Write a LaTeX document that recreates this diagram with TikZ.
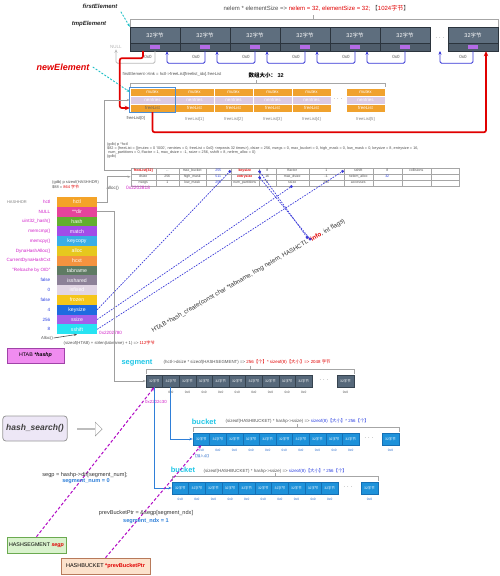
\documentclass[tikz,border=0pt]{standalone}
\usepackage{fontspec}
\setmainfont{Liberation Sans}
\newfontfamily\cjk{Noto Sans CJK SC}
\usepackage{xcolor}
\definecolor{elembg}{HTML}{5E6E7E}
\definecolor{elemlow}{HTML}{4F5D6B}
\definecolor{elembd}{HTML}{2B343D}
\definecolor{linkmk}{HTML}{B46BE6}
\definecolor{lnkblue}{HTML}{3535D5}
\definecolor{ptrred}{HTML}{E00000}
\definecolor{ptrcyan}{HTML}{1FBFC6}
\definecolor{flor}{HTML}{F0A22E}
\definecolor{fllav}{HTML}{DCCBE3}
\definecolor{flhi}{HTML}{4A8ED6}
\definecolor{txtgray}{HTML}{505050}
\definecolor{valm}{HTML}{D01FC8}
\definecolor{valb}{HTML}{2A3FE0}
\definecolor{cfgblue}{HTML}{3A3AD8}
\definecolor{bkhctl}{HTML}{F4A328}
\definecolor{bkdir}{HTML}{E6449B}
\definecolor{bkhash}{HTML}{62AE2F}
\definecolor{bkmatch}{HTML}{A24CE8}
\definecolor{bkkeyc}{HTML}{3AAEE6}
\definecolor{bkalloc}{HTML}{E6C81E}
\definecolor{bkhcxt}{HTML}{F5933F}
\definecolor{bktab}{HTML}{5F7B63}
\definecolor{bkshar}{HTML}{8D8198}
\definecolor{bkfix}{HTML}{E2D6E4}
\definecolor{bkfroz}{HTML}{F5C61A}
\definecolor{bkksz}{HTML}{1E6BE0}
\definecolor{bkssz}{HTML}{A45FEA}
\definecolor{bkshf}{HTML}{27E3F2}
\definecolor{segbg}{HTML}{56687A}
\definecolor{segbd}{HTML}{36434F}
\definecolor{bktbg}{HTML}{1E92DA}
\definecolor{bktbd}{HTML}{1570B5}
\definecolor{lblue}{HTML}{2F7FD8}
\definecolor{zblue}{HTML}{2A6BC9}
\definecolor{magln}{HTML}{B10BC4}
\definecolor{segcyan}{HTML}{1FC6E6}
\definecolor{htabbg}{HTML}{F08CF0}
\definecolor{htabbd}{HTML}{A043A8}
\definecolor{hsegbg}{HTML}{D9F2CD}
\definecolor{hsegbd}{HTML}{6BAA50}
\definecolor{hbktbg}{HTML}{FCE2CC}
\definecolor{hbktbd}{HTML}{B87A5A}
\definecolor{hsbg}{HTML}{EDE7F6}
\usepackage{tikz}
\usetikzlibrary{positioning, arrows.meta, calc, matrix, shapes.arrows}
\newcommand{\fsz}[1]{\fontsize{#1}{#1}\selectfont}
\newcommand{\zh}[1]{{\cjk #1}}

\begin{document}
\begin{tikzpicture}[x=1pt, y=-1pt,
  elem/.style={draw=elembd, fill=elembg, minimum width=50, minimum height=16, inner sep=0pt,
              text=white, font=\fsz{5.5}},
  nullv/.style={font=\fsz{4.5}, text=txtgray, inner sep=0.5pt},
  nextlnk/.style={draw=lnkblue, line width=0.9pt, rounded corners=1.5pt, -{Stealth[length=3.5pt,width=3pt]}},
  nulllnk/.style={nextlnk, draw=gray!55},
  redptr/.style={draw=ptrred, line width=1.7pt, rounded corners=2pt, -{Stealth[length=5pt,width=4.5pt]}},
  cyptr/.style={draw=ptrcyan, line width=0.9pt, dash pattern=on 2pt off 1.5pt, -{Stealth[length=3.5pt]}},
  tag/.style={font=\fsz{6}\bfseries\itshape, text=black!85},
  brk/.style={draw=gray!70, line width=0.5pt},
  dots/.style={font=\fsz{6}, text=gray},
  flcell/.style={fill=flor, draw=white, line width=0.4pt, minimum height=8, inner sep=0pt,
                text=white, font=\fsz{4.5}},
  flidx/.style={font=\fsz{4.2}, text=gray},
  note/.style={font=\fsz{4.2}, text=txtgray, inner sep=0.5pt},
  blk/.style={minimum width=40, minimum height=9.8, inner sep=0pt, text=white, font=\fsz{5.2}},
  vlab/.style={font=\fsz{4.6}, inner sep=0.5pt, anchor=east},
  gry/.style={draw=gray!75, line width=0.6pt, -{Stealth[length=3pt]}},
  cfg/.style={draw=cfgblue, line width=0.7pt, dash pattern=on 1.6pt off 1.2pt,
             -{Square[length=2.2pt,width=2.2pt]}},
  sq2/.style={{Square[length=2.2pt,width=2.2pt]}-{Square[length=2.2pt,width=2.2pt]}},
  segbox/.style={draw=segbd, fill=segbg, minimum width=16.6, minimum height=12, inner sep=0pt,
                text=white, font=\fsz{3.4}},
  bktbox/.style={segbox, draw=bktbd, fill=bktbg},
  zlab/.style={font=\fsz{3.2}, text=txtgray, inner sep=0pt},
  title/.style={font=\fsz{7.5}\bfseries, text=segcyan},
  bln/.style={draw=lblue, line width=1pt, -{Stealth[length=3.5pt]}},
  mag/.style={draw=magln, line width=1pt, dash pattern=on 3pt off 2pt, -{Stealth[length=4pt]}},
  ptrbox/.style={draw, line width=0.6pt, minimum height=16, inner sep=1pt, font=\fsz{5.3}},
  code/.style={font=\fsz{5.6}, text=black!80, inner sep=0.5pt},
  idx/.style={font=\fsz{5.6}\bfseries, text=lblue, inner sep=0.5pt},
]
\useasboundingbox (0,0) rectangle (500,576);

% element array (1024 bytes)
\foreach \i/\x in {1/155,2/205,3/255,4/305,5/355,6/405,7/473} {
  \node[elem] (e\i) at (\x,35) {32\zh{字节}};
  \draw[fill=elemlow, draw=elembd] (e\i.south west) rectangle ++(50,8);
  \fill[linkmk] ($(e\i.south)+(-5,2)$) rectangle ++(10,4);
  \coordinate (k\i) at ($(e\i.south)+(0,8)$);
}
\node[dots] (edots) at (440,39) {· · ·};
\node[font=\fsz{6}, text=txtgray, anchor=west] (nsz) at (220,8)
  {nelem * elementSize => \textcolor{ptrred}{nelem = 32, elementSize = 32;} \zh{【}\textcolor{ptrred}{1024\zh{字节}}\zh{】}};
\draw[brk] (e1.north west) -- ++(0,-8) -| (e7.north east);
\draw[brk] (313,19) -- (313,15);

% link chain
\node[nullv, text=gray!60] (nul) at (116,47) {NULL};
\draw[nulllnk] (k1) -- ++(0,12) -| (nul.south);
\node[nullv] (z1) at ($(k1)+(-7,6)$) {0x0};
\foreach \i/\j in {2/1,3/2,4/3,5/4,6/5} {
  \draw[nextlnk] (k\i) -- ++(0,12) -| ($(k\j)+(12,0)$);
  \node[nullv] (z\i) at ($(k\i)+(-9,6)$) {0x0};
}
\coordinate (gap) at (440,51);
\draw[nextlnk] (k7) -- ++(0,12) -| (gap);
\node[nullv] (z7) at ($(k7)+(-10,6)$) {0x0};

% pointer labels
\node[tag] (fe) at (100,6) {firstElement};
\node[tag] (te) at (89,24) {tmpElement};
\node[tag, font=\fsz{9}\bfseries\itshape, text=ptrred] (ne) at (63,67) {newElement};
\draw[cyptr] (fe.south east) -- (e1.north west);

% freeList array
\foreach \i/\x/\w in {0/152.5/45,1/194.5/39,2/233.5/39,3/272.5/39,4/311.5/39,5/365.5/39} {
  \node[flcell, minimum width=\w] (fm\i) at (\x,92) {mutex};
  \node[flcell, minimum width=\w, fill=fllav] (fn\i) at (\x,100) {nentries};
  \node[flcell, minimum width=\w] (ff\i) at (\x,108) {freeList};
}
\foreach \i in {1,...,5}
  \node[flidx] (fl\i) at ($(ff\i.south)+(0,7)$) {freeList[\i]};
\node[flidx, text=txtgray, anchor=north east] (fl0) at ($(ff0.south)+(-4,1)$) {freeList[0]};
\node[flcell, minimum width=45, text=black!60] at (ff0) {freeList};
\draw[draw=flhi, line width=0.8pt] (fm0.north west) rectangle (ff0.south east);
\node[dots] (fdots) at (338,100) {· · ·};
\draw[brk] ([yshift=1pt]fm0.north west) |- ([yshift=5pt]fm5.north east) -- ([yshift=1pt]fm5.north east);
\draw[brk] (256,83) -- (256,80);
\node[note, anchor=west] (lnk) at (122,74) {firstElement->link = hctl->freeList[freelist\_idx].freeList};
\node[font=\fsz{5.5}\bfseries, anchor=west] (asz) at (245,75) {\zh{数组大小：} 32};
\draw[cyptr] (ne.east) -- (fm0.west);
\draw[redptr] ($(k1)+(-12,0)$) -- ++(0,7) -| ([xshift=-10pt]ff0.west) -- (ff0.west);
\draw[redptr] (ff0.south) -- ++(0,20) -| ($(k7)+(13,0)$);

% gdb output and HASHHDR table
\node[font=\fsz{3.8}, text=txtgray, align=left, anchor=north west, inner sep=0pt] (gdb) at (107,143)
  {(gdb) p *hctl\\
   \$82 = \{freeList = \{\{mutex = 0 '\textbackslash 000', nentries = 0, freeList = 0x0\} <repeats 32 times>\}, dsize = 256, nsegs = 0, max\_bucket = 0, high\_mask = 0, low\_mask = 0, keysize = 8, entrysize = 16,\\
   \ num\_partitions = 0, ffactor = 1, max\_dsize = -1, ssize = 256, sshift = 8, nelem\_alloc = 0\}\\
   (gdb)};
\matrix[matrix of nodes, nodes in empty cells, anchor=north west,
        column sep=-0.4pt, row sep=-0.4pt,
        nodes={draw=gray!70, line width=0.4pt, minimum height=6, inner sep=0pt, anchor=center,
               text height=2.6pt, text depth=0.8pt, font=\fsz{3.5}, text=txtgray},
        tred/.style={text=ptrred, font=\fsz{3.5}\bfseries},
        tblue/.style={text=valb},
        column 1/.style={nodes={minimum width=25}}, column 2/.style={nodes={minimum width=23}},
        column 3/.style={nodes={minimum width=27}}, column 4/.style={nodes={minimum width=25}},
        column 5/.style={nodes={minimum width=28}}, column 6/.style={nodes={minimum width=17}},
        column 7/.style={nodes={minimum width=33}}, column 8/.style={nodes={minimum width=35}},
        column 9/.style={nodes={minimum width=29}}, column 10/.style={nodes={minimum width=29}},
        column 11/.style={nodes={minimum width=29}}, column 12/.style={nodes={minimum width=28}}]
  (tbl) at (127,164) {
  |[tred]| freeList[32] & ... & max\_bucket & |[tblue]| 255 & |[tred]| keysize & 8 & ffactor & 1 & sshift & 8 & collisions & \\
  dsize & 256 & high\_mask & |[tblue]| 511 & |[tred]| entrysize & 16 & max\_dsize & -1 & nelem\_alloc & |[tblue]| 32 & & \\
  nsegs & 1 & low\_mask & |[tblue]| 255 & num\_partitions & 0 & ssize & 256 & accesses & & & \\
};
\node[font=\fsz{4.8}, text=valm, anchor=west, inner sep=0pt] (adr1) at (126,188) {0x2202818};
\draw[gry] (tbl-1-1.west) -- ++(-26,0) |- (fn0.west);

% HTAB block
\node[font=\fsz{4}, text=txtgray, align=left, anchor=north west, inner sep=0pt] (hsz) at (52,180)
  {(gdb) p sizeof(HASHHDR)\\ \$88 = \textcolor{ptrred}{864 \zh{字节}}};
\foreach \fld/\bc/\val/\vc [count=\n] in {hctl/bkhctl/hctl/valm, **dir/bkdir/NULL/valm,
    hash/bkhash/uint32\_hash()/valm, match/bkmatch/memcmp()/valm, keycopy/bkkeyc/memcpy()/valm,
    alloc/bkalloc/DynaHashAlloc()/valm, hcxt/bkhcxt/CurrentDynaHashCxt/valm,
    tabname/bktab/"Relcache by OID"/valm, isshared/bkshar/false/valb, isfixed/bkfix/0/valb,
    frozen/bkfroz/false/valb, keysize/bkksz/4/valb, ssize/bkssz/256/valb, sshift/bkshf/8/valb} {
  \pgfmathsetmacro{\yy}{192.1+9.8*\n}
  \node[blk, fill=\bc] (f\n) at (77,\yy) {\fld};
  \node[vlab, text=\vc] (v\n) at (51,\yy) {\val};
}
\node[font=\fsz{4}, text=gray] (hh) at (17,202) {HASHHDR};
\node[font=\fsz{4.6}, text=valm, anchor=west, inner sep=0pt] (adr2) at (99,333) {0x2202780};
\node[font=\fsz{4.5}, text=txtgray, anchor=west, inner sep=0.5pt] (alc1) at (106,188) {alloc()};
\draw[gry] (f1.east) -| ($(tbl-2-1.west)+(-23,0)$) -- (tbl-2-1.west);
\node[font=\fsz{4.2}, text=txtgray, inner sep=0.5pt] (alc2) at (47,338) {Alloc()};
\draw[gry, draw=black!70] (alc2.east) -- (f14.south);
\node[note, anchor=west] (hsz2) at (63,343) {(sizeof(HTAB) + strlen(tabname) + 1) => \textcolor{ptrred}{112\zh{字节}}};
\node[ptrbox, draw=htabbd, fill=htabbg, minimum width=57, minimum height=15] (htab) at (35.5,355.5)
  {HTAB \textbf{\textit{*hashp}}};

% hash_create prototype and HASHCTL fields
\node[font=\fsz{6.2}, text=black!80, inner sep=0pt, rotate=30, anchor=base west] (hc) at (153,333)
  {HTAB *hash\_create(const char *tabname, long nelem, HASHCTL \textcolor{ptrred}{\textbf{*info}}, int flags)};
\coordinate (info) at ($(hc.base west)!0.815!(hc.base east)+(-2,-4)$);
\draw[cfg] (f12.east) -- (tbl-1-5.west);
\draw[cfg] (f13.east) -- (tbl-3-7.south);
\draw[cfg] (f14.east) -- (tbl-1-9.west);
\draw[cfg, sq2] (tbl-1-5.east) -- (info);
\draw[cfg, sq2] (tbl-2-5.east) -- ($(info)+(3,1.5)$);

% segment directory
\node[title] (segt) at (137,363) {segment};
\node[note, font=\fsz{4.4}, anchor=west] (segf) at (163,362)
  {(hctl->dsize * sizeof(HASHSEGMENT) => \textcolor{ptrred}{256\zh{【个】}* sizeof(8)\zh{【大小】}=> 2048 \zh{字节}}};
\foreach \i in {1,...,10}
  \node[segbox] (s\i) at ({137.7+16.6*\i},381) {32\zh{字节}};
\node[dots] (sdots) at (324,381) {· · ·};
\node[segbox] (s11) at (345.5,381) {32\zh{字节}};
\foreach \i in {2,...,11}
  \node[zlab] (sz\i) at ($(s\i.south)+(0,5)$) {0x0};
\draw[brk] ([yshift=1pt]s1.north west) |- ([yshift=6pt]s11.north east) -- ([yshift=1pt]s11.north east);
\draw[brk] (250,369) -- (250,366);
\draw[gry] (f2.east) -| ($(s1.west)+(-32,0)$) -- (s1.west);
\node[font=\fsz{4.4}, text=valm, anchor=west, inner sep=0pt] (adr3) at (145,402) {0x2202c30};

% bucket arrays
\node[title] (bt1) at (204,422) {bucket};
\node[note, font=\fsz{4.4}, anchor=west] (bf1) at (225,421)
  {(sizeof(HASHBUCKET) * hashp->ssize) => \textcolor{valb}{sizeof(8)\zh{【大小】}* 256\zh{【个】}}};
\foreach \i in {1,...,10}
  \node[bktbox] (d\i) at ({184.7+16.6*\i},439) {32\zh{字节}};
\node[dots] (ddots) at (369,439) {· · ·};
\node[bktbox] (d11) at (390.5,439) {32\zh{字节}};
\foreach \i in {1,...,11}
  \node[zlab, text=zblue] (dz\i) at ($(d\i.south)+(0,5)$) {0x0};
\node[zlab, text=zblue, font=\fsz{3.5}] (ins) at (202,456) {\zh{【插入点】}};
\draw[brk] ([yshift=1pt]d1.north west) |- ([yshift=6pt]d11.north east) -- ([yshift=1pt]d11.north east);
\draw[brk] (297,427) -- (297,424);

\node[title] (bt2) at (183,470) {bucket};
\node[note, font=\fsz{4.4}, anchor=west] (bf2) at (203,471)
  {(sizeof(HASHBUCKET) * hashp->ssize) => \textcolor{valb}{sizeof(8)\zh{【大小】}* 256\zh{【个】}}};
\foreach \i in {1,...,10}
  \node[bktbox] (c\i) at ({163.7+16.6*\i},488) {32\zh{字节}};
\node[dots] (cdots) at (348,488) {· · ·};
\node[bktbox] (c11) at (369.5,488) {32\zh{字节}};
\foreach \i in {1,...,11}
  \node[zlab, text=zblue] (cz\i) at ($(c\i.south)+(0,5)$) {0x0};
\draw[brk] ([yshift=1pt]c1.north west) |- ([yshift=6pt]c11.north east) -- ([yshift=1pt]c11.north east);
\draw[brk] (275,476) -- (275,473);

\draw[bln] (s1.south) |- (c1.west);
\draw[bln] (s2.south) |- (d1.west);

% hash_search
\node[draw=gray!80, fill=hsbg, rounded corners=3pt, line width=0.8pt, minimum width=64, minimum height=25,
      font=\fsz{8.5}\bfseries\itshape, text=black!75] (hs) at (35,428.5) {hash\_search()};
\node[single arrow, draw=gray!80, fill=white, minimum height=25, minimum width=14,
      single arrow head extend=3pt, inner sep=0pt] (harr) at (89.5,429) {};

% local pointers
\node[ptrbox, draw=hsegbd, fill=hsegbg, minimum width=59] (hseg) at (36.5,545)
  {HASHSEGMENT \textcolor{ptrred}{\textbf{\textit{segp}}}};
\node[ptrbox, draw=hbktbd, fill=hbktbg, minimum width=89, font=\fsz{5.5}] (hbkt) at (105.5,566)
  {HASHBUCKET \textcolor{ptrred}{\textbf{*prevBucketPtr}}};
\draw[mag] (hseg.north) -- (s1.south);
\draw[mag] (hbkt.north) -- (d1.south);
\node[code] (sg1) at (85,475) {segp = hashp->dir[segment\_num];};
\node[idx] (sg2) at (86,481) {segment\_num = 0};
\node[code] (pb1) at (146,513) {prevBucketPtr = \&segp[segment\_ndx]};
\node[idx] (pb2) at (146,521) {segment\_ndx = 1};
\end{tikzpicture}
\end{document}
